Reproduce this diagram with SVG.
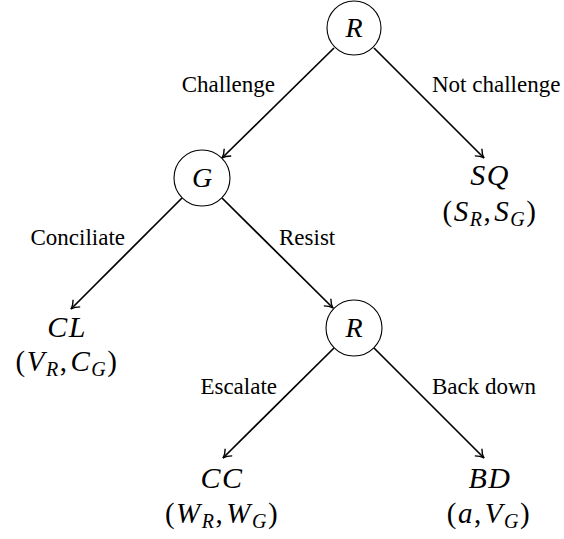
<svg xmlns="http://www.w3.org/2000/svg" width="564" height="539" viewBox="0 0 564 539">
<style>
.node{fill:#fff;stroke:#000;stroke-width:1.1}
.edge{stroke:#000;stroke-width:1.7;fill:none;marker-end:url(#arr)}
.lbl{font-family:"Liberation Serif","DejaVu Serif",serif;font-size:23px;fill:#000}
.math{font-family:"Liberation Serif","DejaVu Serif",serif;font-size:28px;font-style:italic;text-anchor:middle;fill:#000}
.t2{font-size:30px;letter-spacing:1.5px}
.pm{font-size:29px;letter-spacing:1.5px}
.up{font-style:normal}
.sub{font-size:20px}
</style>
<defs>
<marker id="arr" markerWidth="12" markerHeight="12" refX="9" refY="6" orient="auto" markerUnits="userSpaceOnUse">
<path d="M1,1 Q5,5 9,6 Q5,7 1,11" fill="none" stroke="#000" stroke-width="1.4"/>
</marker>
</defs>
<g id="connectors">
<line class="edge" x1="334" y1="48" x2="222" y2="158"/>
<line class="edge" x1="374" y1="48" x2="484" y2="158"/>
<line class="edge" x1="182" y1="198" x2="71" y2="309"/>
<line class="edge" x1="222" y1="198" x2="333" y2="308"/>
<line class="edge" x1="334" y1="348" x2="223" y2="458"/>
<line class="edge" x1="374" y1="348" x2="484" y2="458"/>
<text class="lbl" x="275" y="92" text-anchor="end">Challenge</text>
<text class="lbl" x="432" y="92" text-anchor="start">Not challenge</text>
<text class="lbl" x="125" y="245" text-anchor="end">Conciliate</text>
<text class="lbl" x="279" y="245" text-anchor="start">Resist</text>
<text class="lbl" x="277" y="394" text-anchor="end">Escalate</text>
<text class="lbl" x="432" y="394" text-anchor="start">Back down</text>
</g>
<g id="n_root">
<circle class="node" cx="354" cy="28" r="27"/>
<text class="math" x="354" y="37">R</text>
</g>
<g id="n_G">
<circle class="node" cx="202" cy="178" r="28"/>
<text class="math" x="202" y="187">G</text>
</g>
<g id="n_R2">
<circle class="node" cx="354" cy="328" r="28"/>
<text class="math" x="354" y="337">R</text>
</g>
<g id="t_SQ">
<text class="math t2" x="490" y="185">SQ</text>
<text class="math pm" x="490" y="221"><tspan class="up">(</tspan>S<tspan class="sub" dy="5">R</tspan><tspan class="up" dy="-5">,</tspan><tspan dx="2">S</tspan><tspan class="sub" dy="5">G</tspan><tspan class="up" dy="-5">)</tspan></text>
</g>
<g id="t_CL">
<text class="math t2" x="67" y="337">CL</text>
<text class="math pm" x="67" y="371"><tspan class="up">(</tspan>V<tspan class="sub" dy="5">R</tspan><tspan class="up" dy="-5">,</tspan><tspan dx="2">C</tspan><tspan class="sub" dy="5">G</tspan><tspan class="up" dy="-5">)</tspan></text>
</g>
<g id="t_CC">
<text class="math t2" x="222" y="488">CC</text>
<text class="math pm" x="222" y="523"><tspan class="up">(</tspan>W<tspan class="sub" dy="5">R</tspan><tspan class="up" dy="-5">,</tspan><tspan dx="2">W</tspan><tspan class="sub" dy="5">G</tspan><tspan class="up" dy="-5">)</tspan></text>
</g>
<g id="t_BD">
<text class="math t2" x="490" y="488">BD</text>
<text class="math pm" x="489" y="523"><tspan class="up">(</tspan>a<tspan class="up">,</tspan><tspan dx="2">V</tspan><tspan class="sub" dy="5">G</tspan><tspan class="up" dy="-5">)</tspan></text>
</g>
</svg>
